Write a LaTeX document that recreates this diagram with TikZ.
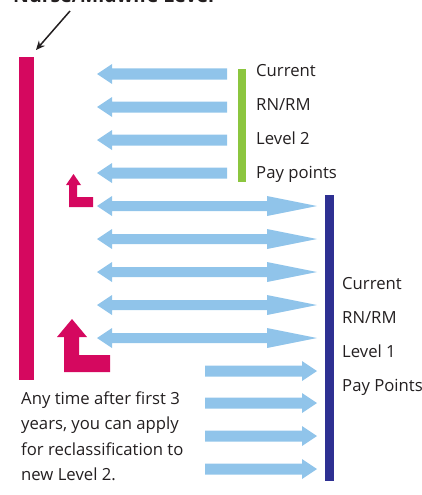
\documentclass[tikz,border=0pt]{standalone}
\usepackage{fontspec}
\setmainfont{Open Sans}
\usetikzlibrary{arrows.meta}
\definecolor{pinkbar}{HTML}{D5085F}
\definecolor{lightblue}{HTML}{90C4EA}
\definecolor{greenbar}{HTML}{8CC63F}
\definecolor{navybar}{HTML}{2E3092}
\definecolor{ink}{HTML}{231F20}

% left-pointing block arrow: tip x, tail x, y
\newcommand\leftblock[3]{%
  \fill[lightblue] (#1,#3) -- (#1+15,#3-10) -- (#1+15,#3-5.5) -- (#2,#3-5.5)
    -- (#2,#3+5.5) -- (#1+15,#3+5.5) -- (#1+15,#3+10) -- cycle;}
% right-pointing block arrow: tail x, tip x, y
\newcommand\rightblock[3]{%
  \fill[lightblue] (#2,#3) -- (#2-15,#3-10) -- (#2-15,#3-5.5) -- (#1,#3-5.5)
    -- (#1,#3+5.5) -- (#2-15,#3+5.5) -- (#2-15,#3+10) -- cycle;}
% double block arrow: short head on the left, long head on the right
\newcommand\doubleblock[3]{%
  \fill[lightblue] (#1,#3) -- (#1+15,#3-10) -- (#1+15,#3-5) -- (#2-50,#3-5)
    -- (#2-50,#3-10) -- (#2,#3) -- (#2-50,#3+10) -- (#2-50,#3+5)
    -- (#1+15,#3+5) -- (#1+15,#3+10) -- cycle;}

\tikzset{
  bar/.style={inner sep=0pt, outer sep=0pt, anchor=north west},
  label/.style={anchor=base west, inner sep=0pt, text=ink, font=\fontsize{16.7}{20}\selectfont},
}

\begin{document}
\begin{tikzpicture}[x=1pt, y=-1pt]
\useasboundingbox (0,0) rectangle (422,495);

% heading, running off the top edge
\node[anchor=base west, inner sep=0pt, text=ink, font=\fontsize{19.5}{23}\selectfont\bfseries]
  (heading) at (13,3) {Nurse/Midwife Level};

% vertical level bars
\node[bar, fill=pinkbar, minimum width=15pt, minimum height=323pt] (pink) at (19,57) {};
\node[bar, fill=greenbar, minimum width=8pt, minimum height=113pt] (green) at (238,69) {};
\node[bar, fill=navybar, minimum width=9pt, minimum height=286pt] (navy) at (325,195) {};

% pointer to the top of the pink bar
\coordinate (ptr) at (70,11);
\draw[ink, line width=1.5pt, -{Stealth[length=9pt, width=8pt]}] (ptr) -- ([xshift=2pt,yshift=7pt]pink.north east);

% Level 2 arrows
\leftblock{97}{227}{74}
\leftblock{97}{227}{107}
\leftblock{97}{227}{140}
\leftblock{97}{227}{173}

% arrows between the levels
\doubleblock{97}{317}{206}
\doubleblock{97}{317}{239}
\doubleblock{97}{317}{272}
\doubleblock{97}{317}{305}
\doubleblock{97}{317}{338}

% Level 1 arrows
\rightblock{205}{317}{371}
\rightblock{205}{317}{403}
\rightblock{205}{317}{436}
\rightblock{205}{317}{469}

% step-up arrows
\fill[pinkbar] (73.5,174) -- (81,185) -- (77,185) -- (77,197) -- (93,197) -- (93,207)
  -- (69,207) -- (69,185) -- (66,185) -- cycle;
\fill[pinkbar] (72,319) -- (87,337) -- (79,337) -- (79,355) -- (110,355) -- (110,372)
  -- (64,372) -- (64,337) -- (57,337) -- cycle;

% Level 2 labels
\node[label] (l2a) at (256,76) {Current};
\node[label] (l2b) at (256,110) {RN/RM};
\node[label] (l2c) at (256,144) {Level 2};
\node[label] (l2d) at (256,178) {Pay points};

% Level 1 labels
\node[label] (l1a) at (342,289) {Current};
\node[label] (l1b) at (342,323) {RN/RM};
\node[label] (l1c) at (342,357) {Level 1};
\node[label] (l1d) at (342,391) {Pay Points};

% note
\node[label] (n1) at (21,404) {Any time after first 3};
\node[label] (n2) at (21,429.5) {years, you can apply};
\node[label] (n3) at (21,455) {for reclassification to};
\node[label] (n4) at (21,480.5) {new Level 2.};
\end{tikzpicture}
\end{document}
